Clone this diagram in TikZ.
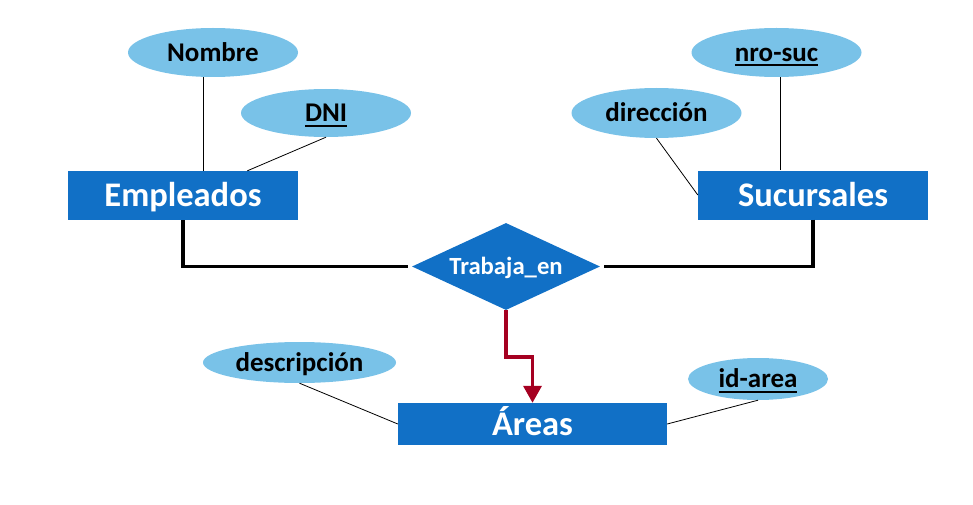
\documentclass[tikz,border=0pt]{standalone}
\usepackage{fontspec}
\setmainfont{Carlito}
\usetikzlibrary{shapes.geometric,arrows.meta}
\definecolor{entblue}{HTML}{1170C6}
\definecolor{attrblue}{HTML}{79C2E8}
\definecolor{relred}{HTML}{A50021}
\newcommand{\pk}[1]{\setbox0\hbox{#1}\rlap{\rule[-5pt]{\wd0}{2pt}}\box0}

\begin{document}
\begin{tikzpicture}[x=1pt, y=-1pt,
  entity/.style={fill=entblue, text=white, font=\fontsize{34.5}{40}\bfseries,
                 minimum width=230pt, minimum height=49pt, inner sep=0pt,
                 text height=22pt, text depth=0pt},
  attr/.style={ellipse, fill=attrblue, font=\fontsize{27}{32}\bfseries,
               minimum width=170pt, minimum height=49pt, inner sep=0pt,
               text height=17.3pt, text depth=0pt},
  rel/.style={diamond, aspect=2.16, fill=entblue, text=white,
              font=\fontsize{24.7}{30}\bfseries, minimum width=188pt,
              minimum height=87pt, inner sep=0pt, text height=15.8pt, text depth=0pt},
  link/.style={line width=0.8pt},
  part/.style={line width=3.2pt}]
  \useasboundingbox (0,0) rectangle (973,505);

  % Entities
  \node[entity] (empleados) at (183,195.5) {Empleados};
  \node[entity] (sucursales) at (813,195) {Sucursales};
  \node[entity, minimum width=269pt, minimum height=42pt] (areas) at (532.5,424) {\'Areas};

  % Relationship
  \node[rel] (trabaja) at (506,266.5) {Trabaja\_en};

  % Attributes
  \node[attr] (nombre) at (213,52.5) {Nombre};
  \node[attr, minimum height=48pt] (dni) at (326,113) {\pk{DNI}};
  \node[attr] (nrosuc) at (776.5,52.5) {\pk{nro-suc}};
  \node[attr, minimum height=50pt] (direccion) at (656.5,113) {dirección};
  \node[attr, minimum width=193pt, minimum height=41pt] (descripcion) at (299.5,362.5) {descripción};
  \node[attr, minimum width=140pt, minimum height=42pt] (idarea) at (758,379) {\pk{id-area}};

  % Attribute links
  \draw[link] (nombre.-112) -- (nombre.-112 |- empleados.north);
  \draw[link] (dni.south) -- (empleados.21);
  \draw[link] (nrosuc.-81) -- (nrosuc.-81 |- sucursales.north);
  \draw[link] (direccion.south) -- (sucursales.west);
  \draw[link] (descripcion.south) -- (areas.west);
  \draw[link] (idarea.south) -- (areas.east);

  % Participation
  \draw[part, shorten >=4pt] (empleados.south) |- (trabaja.west);
  \draw[part, shorten >=4pt] (sucursales.south) |- (trabaja.east);
  \draw[part, relred, line width=3.5pt, -{Triangle[width=18pt,length=17pt]}]
       (trabaja.south) -- ++(0,47) -| (areas.north);
\end{tikzpicture}
\end{document}
